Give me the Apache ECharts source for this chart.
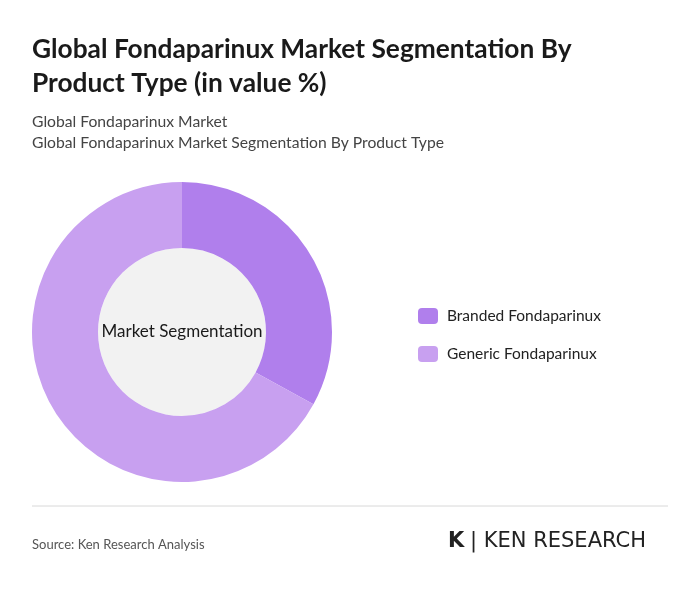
<!DOCTYPE html>
<html>
<head>
<meta charset="utf-8">
<script src="https://cdn.jsdelivr.net/npm/echarts@6/dist/echarts.min.js"></script>
<style>
  html, body { margin: 0; padding: 0; background: #fff; }
  #chart { width: 700px; height: 591px; }
</style>
</head>
<body>
<div id="chart"></div>
<script>
// datos
const categories = ['Branded Fondaparinux', 'Generic Fondaparinux'];
const values = [33, 67];
const colors = ['#b07fec', '#c8a0f0'];

(function () {
    const chart = echarts.init(document.getElementById('chart'));
    const font = 'Lato';

    const option = {
        animation: false,
        textStyle: { fontFamily: font },
        title: [
            {
                text: 'Global Fondaparinux Market Segmentation By\nProduct Type (in value %)',
                left: 27, top: 28,
                textStyle: { fontFamily: font, fontSize: 26.3, fontWeight: 'bold', color: '#1a1a1a', lineHeight: 34 }
            },
            {
                text: 'Global Fondaparinux Market\nGlobal Fondaparinux Market Segmentation By Product Type',
                left: 27, top: 106,
                textStyle: { fontFamily: font, fontSize: 15.7, fontWeight: 'normal', color: '#444', lineHeight: 21 }
            }
        ],
        legend: {
            orient: 'vertical',
            left: 413, top: 303,
            itemWidth: 20, itemHeight: 16, itemGap: 22,
            icon: 'roundRect',
            textStyle: { fontFamily: font, fontSize: 15.5, color: '#222', padding: [0, 0, 0, 4] },
            data: categories
        },
        series: [{
            type: 'pie',
            center: [182, 332],
            radius: [84, 150],
            startAngle: 90,
            clockwise: true,
            label: {
                show: true, position: 'center',
                formatter: 'Market Segmentation',
                fontFamily: font, fontSize: 17, color: '#1a1a1a'
            },
            labelLine: { show: false },
            emphasis: { disabled: true },
            data: categories.map((c, i) => ({ name: c, value: values[i], itemStyle: { color: colors[i] } }))
        }],
        graphic: [
            { type: 'circle', shape: { cx: 182, cy: 332, r: 84 }, style: { fill: '#f2f2f2' }, z: -1 },
            { type: 'line', shape: { x1: 32, y1: 506, x2: 668, y2: 506 }, style: { stroke: '#d8d8d8', lineWidth: 1 } },
            { type: 'text', left: 32, top: 538, style: { text: 'Source: Ken Research Analysis', font: '13px Lato', fill: '#555' } },
            { type: 'text', left: 448, top: 531, style: { text: 'K', font: 'bold 21px "DejaVu Sans"', fill: '#222' } },
            { type: 'text', left: 470, top: 531, style: { text: '| KEN RESEARCH', font: '21px "DejaVu Sans"', fill: '#222' } }
        ]
    };

    chart.setOption(option);
})();
</script>
</body>
</html>
